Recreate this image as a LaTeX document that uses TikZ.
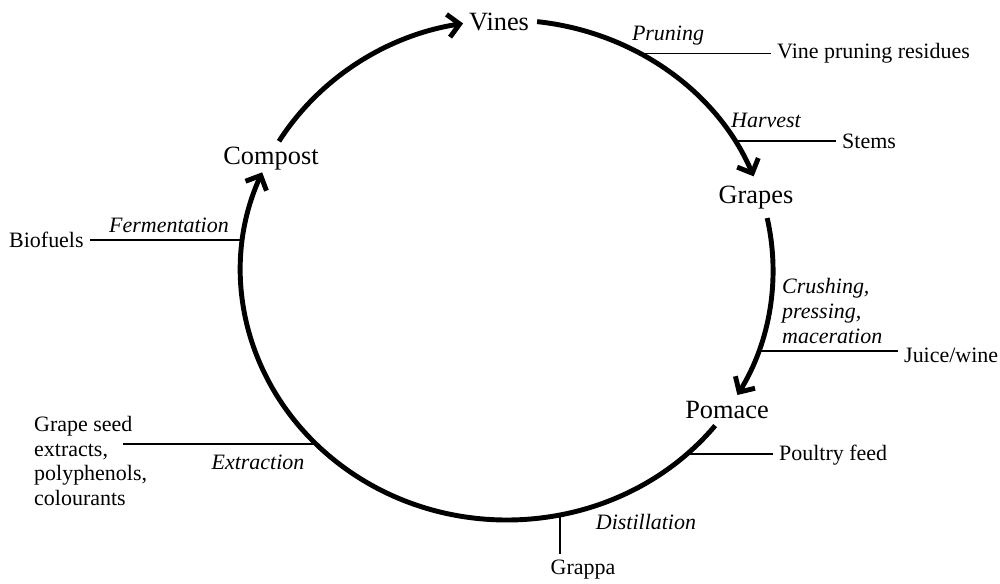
\documentclass[tikz,border=0pt]{standalone}
\usepackage{fontspec}
\setmainfont{Liberation Serif}
\usetikzlibrary{arrows.meta}

\begin{document}
\begin{tikzpicture}[x=0.02cm,y=0.02cm,>={Straight Barb[length=2.3mm,width=4.6mm]}]
\tikzset{cyc/.style={line width=2.8pt,->},
  branch/.style={line width=1.1pt},
  stage/.style={font=\fontsize{15}{18}\selectfont},
  prod/.style={font=\fontsize{12.5}{14}\selectfont},
  proc/.style={font=\fontsize{12.5}{14}\selectfont\itshape}}
\useasboundingbox (0,0) rectangle (1000,583);
\coordinate (ctr) at (507,313);
% ---------- stages ----------
\node[stage] (vines) at (499,561) {Vines};
\node[stage] (grapes) at (756,385) {Grapes};
\node[stage] (pomace) at (727,173) {Pomace};
\node[stage] (compost) at (271,424) {Compost};
% ---------- cycle arcs ----------
\draw[cyc] (ctr) ++(83.5:266 and 250) arc[start angle=83.5,end angle=22,x radius=266,y radius=250];
\draw[cyc] (ctr) ++(12:266 and 250) arc[start angle=12,end angle=-30,x radius=266,y radius=250];
\draw[cyc] (ctr) ++(-38.5:266 and 250) arc[start angle=-38.5,end angle=-203,x radius=266,y radius=250];
\draw[cyc] (ctr) ++(149:266 and 250) arc[start angle=149,end angle=99.5,x radius=266,y radius=250];
% ---------- points on the cycle ----------
\path (ctr) ++(60:266 and 250) coordinate (pru);
\path (ctr) ++(31:266 and 250) coordinate (harv);
\path (ctr) ++(-19:266 and 250) coordinate (crush);
\path (ctr) ++(-47.5:266 and 250) coordinate (feed);
\path (ctr) ++(-78.5:266 and 250) coordinate (dist);
\path (ctr) ++(-136:266 and 250) coordinate (extr);
\path (ctr) ++(173:266 and 250) coordinate (ferm);
% ---------- processes ----------
\node[proc] (pruning) at (668,547) {Pruning};
\node[proc] (harvest) at (766,463) {Harvest};
\node[proc,align=left,anchor=west] (crushing) at (776,272) {Crushing,\\pressing,\\maceration};
\node[proc] (distill) at (646,61) {Distillation};
\node[proc] (extract) at (258,121) {Extraction};
\node[proc] (ferment) at (169,358) {Fermentation};
% ---------- products ----------
\node[prod,anchor=west] (prunres) at (771,530) {Vine pruning residues};
\node[prod,anchor=west] (stems) at (836,442) {Stems};
\node[prod,anchor=west] (juice) at (898,228) {Juice/wine};
\node[prod,anchor=west] (poultry) at (773,128) {Poultry feed};
\node[prod] (grappa) at (583,13) {Grappa};
\node[prod,align=left,anchor=west] (seeds) at (28,122) {Grape seed\\extracts,\\polyphenols,\\colourants};
\node[prod,anchor=west] (biofuels) at (3,343) {Biofuels};
\coordinate (seedtip) at (123,140);
% ---------- branches ----------
\draw[branch] (pru) -- (pru -| prunres.west);
\draw[branch] (harv) -- (harv -| stems.west);
\draw[branch] (crush) -- (crush -| juice.west);
\draw[branch] (feed) -- (feed -| poultry.west);
\draw[branch] (dist) -- (dist |- grappa.north);
\draw[branch] (extr) -- (extr -| seedtip);
\draw[branch] (ferm) -- (ferm -| biofuels.east);
\end{tikzpicture}
\end{document}
